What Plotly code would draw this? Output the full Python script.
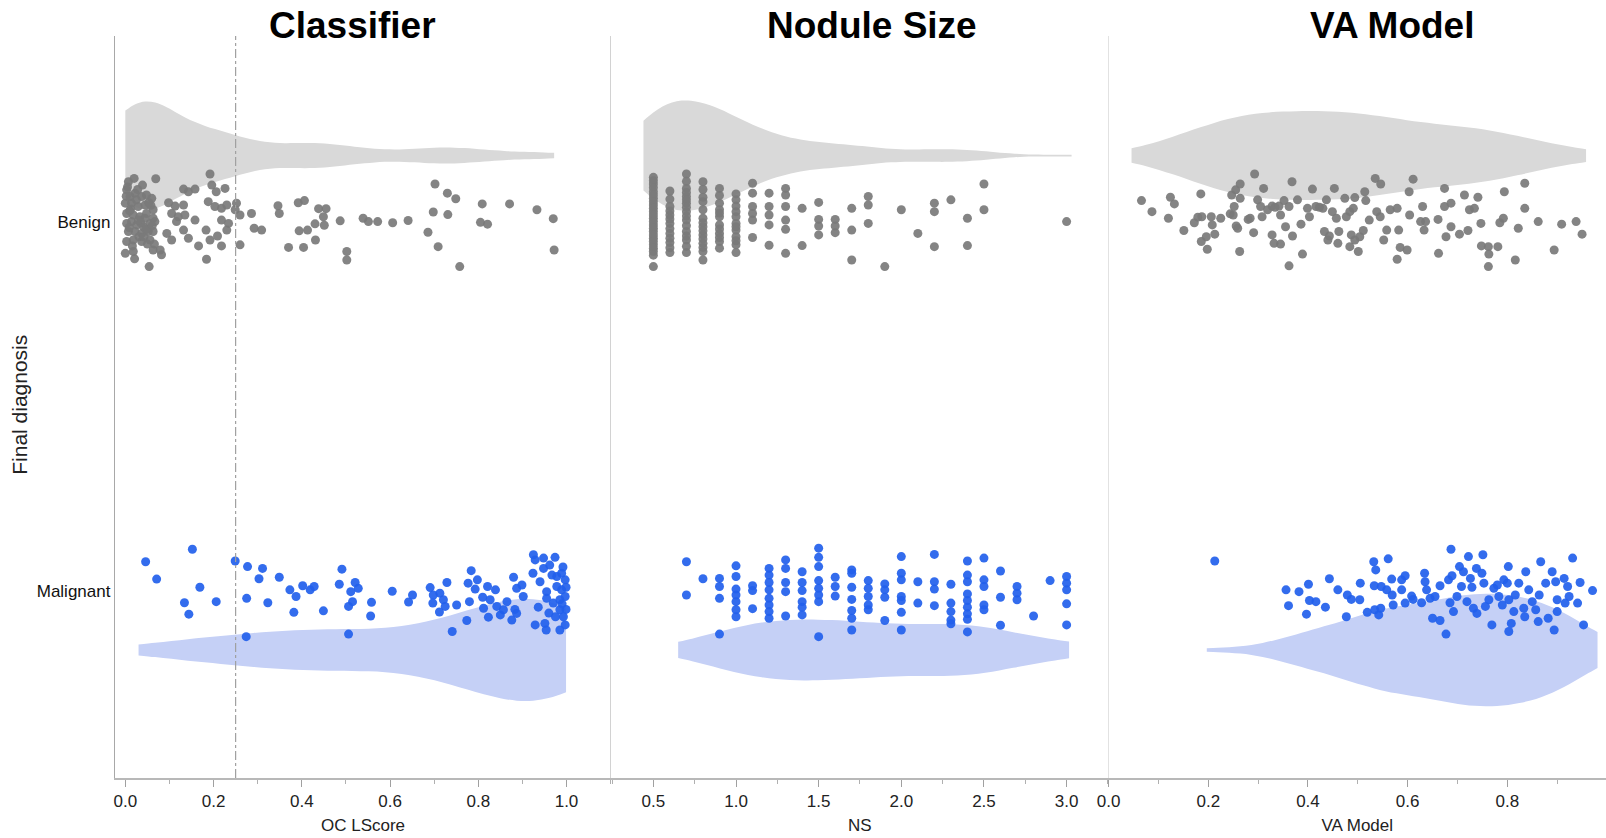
import plotly.graph_objects as go

# ---------------- data ----------------
categories = ["Benign", "Malignant"]
cat_pos = [1.0, 0.0]          # category positions on the y axis
panel_titles = ["Classifier", "Nodule Size", "VA Model"]
x_titles = ["OC LScore", "NS", "VA Model"]
threshold = 0.25              # classifier cut-off (dash-dot line)

# Classifier (OC LScore)
cl_benign_x = [
    0.007, 0.020, 0.039, 0.069, 0.003, 0.011, 0.022, 0.037, 0.048, 0.060,
    0.000, 0.014, 0.029, 0.045, 0.063, 0.003, 0.018, 0.033, 0.048, 0.063,
    0.003, 0.014, 0.026, 0.041, 0.056, 0.067, 0.007, 0.022, 0.037, 0.052,
    0.063, 0.003, 0.018, 0.037, 0.056, 0.000, 0.018, 0.063, 0.079, 0.082,
    0.054, 0.132, 0.143, 0.158, 0.098, 0.113, 0.132, 0.105, 0.120, 0.135,
    0.116, 0.158, 0.094, 0.105, 0.132, 0.143, 0.166, 0.183, 0.192, 0.184,
    0.192, 0.196, 0.206, 0.188, 0.203, 0.218, 0.230, 0.226, 0.252, 0.249,
    0.260, 0.218, 0.234, 0.230, 0.209, 0.218, 0.260, 0.286, 0.292, 0.309,
    0.346, 0.349, 0.370, 0.392, 0.406, 0.394, 0.413, 0.430, 0.404, 0.431,
    0.438, 0.455, 0.449, 0.451, 0.487, 0.502, 0.502, 0.539, 0.551, 0.572,
    0.606, 0.641, 0.702, 0.730, 0.749, 0.698, 0.731, 0.686, 0.709, 0.758,
    0.809, 0.805, 0.821, 0.871, 0.933, 0.970, 0.972,
    0.005, 0.012, 0.025, 0.031, 0.044, 0.050, 0.058, 0.009, 0.016, 0.028,
    0.035, 0.042, 0.053, 0.002, 0.021, 0.047, 0.061, 0.010, 0.030, 0.066]
cl_benign_jit = [
    0.109, 0.118, 0.100, 0.117, 0.087, 0.069, 0.078, 0.069, 0.073, 0.064,
    0.051, 0.051, 0.042, 0.046, 0.033, 0.023, 0.019, 0.014, 0.023, 0.010,
    -0.004, 0.001, -0.008, -0.013, -0.004, 0.001, -0.026, -0.026, -0.031, -0.026,
    -0.026, -0.053, -0.049, -0.053, -0.049, -0.085, -0.080, -0.076, -0.076, -0.089,
    -0.121, 0.089, 0.082, 0.089, 0.052, 0.043, 0.046, 0.023, 0.014, 0.019,
    0.001, 0.005, -0.031, -0.049, -0.022, -0.044, -0.065, -0.022, -0.049, -0.101,
    0.130, 0.100, 0.082, 0.055, 0.042, 0.037, 0.046, 0.091, 0.051, 0.033,
    0.019, 0.005, -0.004, -0.022, -0.038, -0.065, -0.062, 0.023, -0.017, -0.022,
    0.044, 0.023, -0.069, 0.052, 0.058, -0.024, -0.022, -0.005, -0.069, -0.049,
    0.036, 0.036, 0.014, -0.009, 0.003, -0.080, -0.103, 0.010, 0.001, 0.001,
    -0.002, 0.004, 0.103, 0.078, 0.063, 0.027, 0.020, -0.028, -0.067, -0.121,
    0.049, -0.001, -0.006, 0.049, 0.033, 0.009, -0.076,
    0.095, 0.035, 0.060, -0.040, 0.010, -0.060, 0.045, -0.015, -0.065, 0.088,
    -0.002, -0.040, 0.052, 0.070, -0.100, -0.020, -0.010, 0.030, 0.005, -0.060]
cl_malig_x = [
    0.046, 0.071, 0.152, 0.169, 0.134, 0.144, 0.206, 0.249, 0.277, 0.311,
    0.303, 0.275, 0.323, 0.349, 0.373, 0.387, 0.402, 0.419, 0.428, 0.382,
    0.449, 0.274, 0.491, 0.485, 0.521, 0.528, 0.511, 0.515, 0.506, 0.558,
    0.556, 0.506, 0.605, 0.642, 0.651, 0.691, 0.698, 0.713, 0.697, 0.721,
    0.725, 0.712, 0.729, 0.751, 0.741, 0.784, 0.798, 0.777, 0.793, 0.780,
    0.774, 0.821, 0.839, 0.810, 0.812, 0.827, 0.823, 0.842, 0.850, 0.865,
    0.857, 0.876, 0.883, 0.887, 0.880, 0.887, 0.899, 0.902, 0.925, 0.929,
    0.924, 0.948, 0.948, 0.974, 0.940, 0.955, 0.967, 0.978, 0.989, 0.997,
    0.955, 0.970, 0.985, 0.997, 0.978, 0.989, 0.936, 0.929, 0.951, 0.954,
    0.985, 0.997, 0.993, 0.985, 0.992, 0.999, 0.962, 0.975, 0.960, 0.999,
    0.990]
cl_malig_jit = [
    0.079, 0.032, 0.113, 0.010, -0.032, -0.063, -0.029, 0.081, 0.066, 0.061,
    0.033, -0.020, -0.032, 0.037, 0.003, -0.015, 0.014, 0.003, 0.012, -0.058,
    -0.054, -0.124, 0.059, 0.018, 0.023, 0.007, -0.002, -0.029, -0.042, -0.031,
    -0.068, -0.117, -0.001, -0.030, -0.011, 0.009, -0.011, -0.006, -0.033, -0.024,
    -0.042, -0.057, 0.023, -0.038, -0.110, 0.055, 0.030, 0.021, 0.005, -0.029,
    -0.080, 0.012, 0.003, -0.017, -0.047, -0.024, -0.071, -0.042, -0.065, -0.029,
    -0.051, -0.079, -0.050, -0.061, 0.037, 0.007, 0.016, -0.015, 0.098, 0.084,
    0.048, 0.089, 0.061, 0.091, 0.025, -0.002, 0.043, 0.039, 0.048, 0.030,
    -0.020, -0.033, -0.024, -0.015, 0.012, 0.003, -0.044, -0.092, -0.088, -0.106,
    -0.106, -0.092, -0.070, -0.051, 0.065, -0.050, 0.070, -0.070, -0.060, 0.010,
    -0.035]

# Nodule size (NS)
ns_benign_x = (
    [0.5] * 13 + [0.6] * 7 + [0.7] * 9 + [0.8] * 9 + [0.9] * 8 + [1.0] * 8 +
    [1.1] * 6 + [1.2] * 5 + [1.3] * 6 + [1.4] * 2 + [1.5] * 4 + [1.6] * 3 +
    [1.7] * 3 + [1.8] * 3 + [1.9] * 1 + [2.0] * 1 + [2.1] * 1 + [2.2] * 3 +
    [2.3] * 1 + [2.4] * 2 + [2.5] * 2 + [3.0] * 1 +
    [0.5] * 12 + [0.6] * 6 + [0.7] * 8 + [0.8] * 6 + [0.9] * 4 + [1.0] * 4)
ns_benign_jit = [
    0.121, 0.103, 0.082, 0.064, 0.046, 0.028, 0.010, -0.008, -0.026, -0.044, -0.062, -0.080, -0.121,
    0.084, 0.042, 0.019, -0.004, -0.031, -0.056, -0.083,
    0.130, 0.091, 0.069, 0.051, 0.028, 0.005, -0.026, -0.049, -0.083,
    0.109, 0.067, 0.055, 0.010, -0.013, -0.035, -0.058, -0.080, -0.103,
    0.091, 0.051, 0.033, 0.014, -0.008, -0.031, -0.053, -0.071,
    0.076, 0.043, 0.014, -0.004, -0.022, -0.040, -0.062, -0.083,
    0.105, 0.078, 0.042, 0.023, 0.005, -0.042,
    0.078, 0.042, 0.019, -0.008, -0.063,
    0.091, 0.073, 0.042, 0.005, -0.020, -0.085,
    0.037, -0.064,
    0.053, 0.007, -0.011, -0.035,
    0.007, -0.011, -0.029,
    0.037, -0.022, -0.103,
    0.069, 0.046, -0.004,
    -0.121,
    0.033,
    -0.031,
    0.051, 0.028, -0.067,
    0.060,
    0.010, -0.064,
    0.103, 0.033,
    0.001,
    0.112, 0.093, 0.073, 0.055, 0.037, 0.019, 0.001, -0.017, -0.035, -0.053, -0.071, -0.090,
    0.062, 0.030, 0.008, -0.018, -0.044, -0.070,
    0.110, 0.080, 0.060, 0.040, 0.016, -0.010, -0.038, -0.066,
    0.088, 0.033, -0.002, -0.024, -0.046, -0.069,
    0.072, 0.024, -0.019, -0.042,
    0.060, 0.028, -0.013, -0.051]
ns_malig_x = (
    [0.7] * 2 + [0.8] * 1 + [0.9] * 4 + [1.0] * 7 + [1.1] * 3 + [1.2] * 8 +
    [1.3] * 5 + [1.4] * 6 + [1.5] * 8 + [1.6] * 3 + [1.7] * 7 + [1.8] * 5 +
    [1.9] * 4 + [2.0] * 7 + [2.1] * 2 + [2.2] * 4 + [2.3] * 5 + [2.4] * 9 +
    [2.5] * 5 + [2.6] * 3 + [2.7] * 3 + [2.8] * 1 + [2.9] * 1 + [3.0] * 5)
ns_malig_jit = [
    0.079, -0.011,
    0.033,
    0.034, 0.012, -0.020, -0.117,
    0.068, 0.039, 0.005, -0.011, -0.029, -0.051, -0.070,
    0.014, 0.001, -0.048,
    0.061, 0.043, 0.023, 0.003, -0.020, -0.038, -0.056, -0.074,
    0.084, 0.061, 0.023, -0.002, -0.068,
    0.052, 0.023, 0.001, -0.029, -0.044, -0.065,
    0.116, 0.091, 0.066, 0.028, 0.007, -0.011, -0.029, -0.124,
    0.037, 0.012, -0.014,
    0.057, 0.048, 0.010, -0.023, -0.053, -0.074, -0.106,
    0.028, 0.007, -0.015, -0.038, -0.051,
    0.019, 0.003, -0.017, -0.080,
    0.093, 0.048, 0.030, -0.015, -0.026, -0.058, -0.106,
    0.025, -0.033,
    0.099, 0.025, 0.005, -0.040,
    0.018, -0.033, -0.056, -0.079, -0.089,
    0.081, 0.043, 0.025, -0.008, -0.026, -0.044, -0.062, -0.077, -0.111,
    0.089, 0.030, 0.012, -0.038, -0.051,
    0.054, -0.017, -0.093,
    0.012, -0.006, -0.024,
    -0.068,
    0.028,
    0.039, 0.021, 0.003, -0.035, -0.092]

# VA model
va_benign_x = [
    0.066, 0.087, 0.120, 0.124, 0.132, 0.151, 0.185, 0.172, 0.179, 0.187,
    0.186, 0.196, 0.198, 0.206, 0.208, 0.213, 0.225, 0.244, 0.247, 0.255,
    0.264, 0.264, 0.252, 0.250, 0.256, 0.259, 0.263, 0.280, 0.284, 0.291,
    0.293, 0.299, 0.305, 0.308, 0.311, 0.319, 0.328, 0.334, 0.342, 0.345,
    0.352, 0.355, 0.362, 0.328, 0.332, 0.345, 0.362, 0.369, 0.368, 0.379,
    0.386, 0.389, 0.399, 0.403, 0.409, 0.416, 0.423, 0.430, 0.437, 0.433,
    0.443, 0.440, 0.453, 0.449, 0.457, 0.462, 0.460, 0.474, 0.477, 0.484,
    0.494, 0.491, 0.487, 0.484, 0.494, 0.504, 0.501, 0.511, 0.514, 0.516,
    0.523, 0.535, 0.546, 0.538, 0.545, 0.552, 0.558, 0.565, 0.579, 0.582,
    0.579, 0.585, 0.599, 0.603, 0.604, 0.611, 0.630, 0.626, 0.633, 0.636,
    0.661, 0.662, 0.674, 0.674, 0.677, 0.687, 0.687, 0.704, 0.714, 0.721,
    0.724, 0.734, 0.741, 0.747, 0.748, 0.762, 0.763, 0.762, 0.781, 0.785,
    0.792, 0.794, 0.822, 0.835, 0.835, 0.816, 0.862, 0.894, 0.909, 0.938,
    0.950]
va_benign_jit = [
    0.058, 0.028, 0.010, 0.067, 0.049, -0.023, 0.076, -0.002, 0.013, 0.014,
    -0.053, -0.040, -0.074, 0.014, -0.008, -0.033, 0.010, 0.022, 0.073, 0.087,
    0.103, 0.064, 0.042, 0.019, -0.011, -0.017, -0.080, 0.007, 0.010, -0.029,
    0.130, 0.060, 0.042, 0.014, 0.091, 0.033, 0.043, 0.040, 0.043, 0.019,
    0.058, -0.013, 0.042, -0.035, -0.058, -0.060, -0.119, -0.038, 0.109, 0.060,
    -0.006, -0.087, 0.037, 0.014, 0.089, 0.042, 0.040, 0.037, 0.060, -0.026,
    -0.038, -0.049, 0.091, 0.028, 0.010, -0.026, -0.058, 0.064, 0.014, 0.028,
    0.066, 0.037, -0.035, -0.067, -0.049, -0.040, -0.080, -0.023, 0.082, 0.058,
    0.005, 0.118, 0.103, 0.028, 0.014, -0.049, -0.022, 0.033, 0.037, -0.022,
    -0.101, -0.069, -0.076, 0.082, 0.019, 0.116, 0.042, 0.001, -0.022, 0.001,
    0.007, -0.085, 0.091, 0.042, -0.040, 0.051, -0.013, -0.033, 0.073, -0.023,
    0.033, 0.037, 0.067, -0.004, -0.065, -0.067, -0.087, -0.121, -0.067, -0.002,
    0.010, 0.082, -0.017, 0.105, 0.037, -0.103, 0.001, -0.076, -0.006, 0.001,
    -0.033]
va_malig_x = [
    0.213, 0.356, 0.361, 0.382, 0.401, 0.403, 0.397, 0.416, 0.435, 0.443,
    0.460, 0.477, 0.479, 0.487, 0.504, 0.505, 0.519, 0.532, 0.536, 0.533,
    0.534, 0.542, 0.546, 0.547, 0.561, 0.558, 0.569, 0.568, 0.571, 0.588,
    0.595, 0.595, 0.588, 0.608, 0.611, 0.628, 0.634, 0.635, 0.638, 0.645,
    0.655, 0.650, 0.665, 0.665, 0.677, 0.682, 0.685, 0.689, 0.687, 0.692,
    0.699, 0.704, 0.708, 0.712, 0.719, 0.722, 0.726, 0.729, 0.732, 0.739,
    0.738, 0.749, 0.751, 0.753, 0.763, 0.756, 0.769, 0.773, 0.780, 0.783,
    0.790, 0.793, 0.802, 0.800, 0.803, 0.808, 0.803, 0.813, 0.816, 0.823,
    0.833, 0.837, 0.835, 0.843, 0.850, 0.857, 0.862, 0.864, 0.867, 0.877,
    0.882, 0.890, 0.897, 0.894, 0.900, 0.900, 0.914, 0.921, 0.924, 0.916,
    0.931, 0.941, 0.946, 0.953, 0.971]
va_malig_jit = [
    0.081, 0.003, -0.040, -0.002, 0.018, -0.026, -0.063, -0.029, -0.044, 0.033,
    0.003, -0.070, -0.011, -0.023, -0.024, 0.021, -0.058, 0.079, 0.057, 0.014,
    -0.051, -0.065, -0.047, 0.012, 0.087, 0.003, -0.011, 0.032, -0.038, 0.030,
    0.041, -0.033, 0.003, -0.014, -0.023, -0.032, 0.048, 0.025, 0.003, -0.020,
    -0.015, -0.074, 0.014, -0.080, -0.117, 0.030, -0.032, 0.041, 0.113, -0.056,
    -0.015, 0.066, 0.012, 0.052, -0.029, 0.093, 0.034, 0.010, -0.047, -0.061,
    0.061, 0.048, 0.098, 0.021, -0.024, -0.042, -0.092, 0.007, 0.016, -0.015,
    -0.038, 0.030, 0.066, 0.021, -0.024, -0.088, -0.110, -0.056, -0.011, 0.021,
    -0.047, 0.052, -0.070, 0.003, -0.029, -0.051, -0.083, -0.011, 0.079, 0.021,
    -0.074, 0.052, 0.025, -0.106, -0.024, -0.056, 0.034, 0.012, -0.015, -0.033,
    0.089, -0.033, 0.023, -0.092, 0.001]

pairs = [(cl_benign_x, cl_benign_jit), (cl_malig_x, cl_malig_jit),
         (ns_benign_x, ns_benign_jit), (ns_malig_x, ns_malig_jit),
         (va_benign_x, va_benign_jit), (va_malig_x, va_malig_jit)]
for a, b in pairs:
    assert len(a) == len(b), (len(a), len(b))

# ---------------- styles ----------------
BENIGN_PT = "rgb(122,122,122)"
MALIG_PT = "rgb(34,96,236)"
BENIGN_VIO = "rgb(217,217,217)"
MALIG_VIO = "rgb(197,208,246)"
VIO_OFFSET = {"Benign": 0.18, "Malignant": -0.16}
# (benign, malignant) per panel: full violin width, kde bandwidth, span padding (left, right)
vio_width = [(0.293, 0.275), (0.298, 0.165), (0.241, 0.305)]
vio_bw = [(0.068, None), (None, None), (None, None)]
vio_pad = [((0.0, 0.0), (0.016, 0.0)), ((0.06, 0.03), (0.05, 0.015)),
           ((0.02, 0.008), (0.016, 0.01))]
SANS = "Liberation Sans, Arial, sans-serif"

fig = go.Figure()
panels = [
    (cl_benign_x, cl_benign_jit, cl_malig_x, cl_malig_jit),
    (ns_benign_x, ns_benign_jit, ns_malig_x, ns_malig_jit),
    (va_benign_x, va_benign_jit, va_malig_x, va_malig_jit),
]
for i, (bx, bj, mx, mj) in enumerate(panels):
    xa = "x" if i == 0 else f"x{i+1}"
    ya = "y" if i == 0 else f"y{i+1}"
    specs = [("Benign", cat_pos[0], bx, BENIGN_VIO, 0), ("Malignant", cat_pos[1], mx, MALIG_VIO, 1)]
    for cat, pos, data, col, k in specs:
        padl, padr = vio_pad[i][k]
        kw = {}
        if vio_bw[i][k] is not None:
            kw["bandwidth"] = vio_bw[i][k]
        fig.add_trace(go.Violin(
            x=data, y0=pos + VIO_OFFSET[cat], orientation="h", side="both",
            width=vio_width[i][k], points=False, fillcolor=col, line=dict(width=0, color=col),
            spanmode="manual", span=[min(data) - padl, max(data) + padr],
            hoverinfo="skip", showlegend=False,
            box=dict(visible=False), meanline=dict(visible=False),
            xaxis=xa, yaxis=ya, **kw))
    for pos, data, jit, col in [(cat_pos[0], bx, bj, BENIGN_PT), (cat_pos[1], mx, mj, MALIG_PT)]:
        fig.add_trace(go.Scatter(
            x=data, y=[pos + j for j in jit], mode="markers",
            marker=dict(size=9, color=col, opacity=0.92, line=dict(width=0)),
            hoverinfo="skip", showlegend=False, xaxis=xa, yaxis=ya))

D1, D2 = 0.3327, 0.6664
tick_font = dict(family=SANS, size=17, color="#222")
common_x = dict(showgrid=False, zeroline=False, showline=True, linecolor="#b8b8b8",
                linewidth=1.5, ticks="outside", ticklen=7, tickwidth=1, tickcolor="#a0a0a0",
                tickformat=".1f", tickfont=tick_font,
                title_font=dict(family=SANS, size=17, color="#222"), title_standoff=9)
y_range = [-0.507, 1.504]
common_y = dict(range=y_range, showgrid=False, zeroline=False, showline=True, ticks="",
                type="linear", fixedrange=True)
minor_style = dict(ticks="outside", ticklen=4, tickcolor="#b0b0b0", tick0=0)

fig.update_layout(
    width=1606, height=838,
    margin=dict(l=115, r=0, t=36, b=60),
    paper_bgcolor="white", plot_bgcolor="white",
    violinmode="overlay", violingap=0, violingroupgap=0,
    xaxis=dict(common_x, domain=[0, D1], range=[-0.0234, 1.101], tick0=0, dtick=0.2,
               minor=dict(minor_style, dtick=0.1), title_text=x_titles[0], anchor="y"),
    xaxis2=dict(common_x, domain=[D1, D2], range=[0.244, 3.254], tick0=0, dtick=0.5,
                minor=dict(minor_style, dtick=0.25), title_text=x_titles[1], anchor="y2"),
    xaxis3=dict(common_x, domain=[D2, 1.0], range=[0, 0.998], tick0=0, dtick=0.2,
                minor=dict(minor_style, dtick=0.1), title_text=x_titles[2], anchor="y3"),
    yaxis=dict(common_y, anchor="x", linecolor="#a8a8a8", linewidth=1.3,
               tickvals=cat_pos, ticktext=categories,
               tickfont=dict(family=SANS, size=17, color="#111")),
    yaxis2=dict(common_y, anchor="x2", linecolor="#d2d2d2", linewidth=1.3, showticklabels=False),
    yaxis3=dict(common_y, anchor="x3", linecolor="#e2e2e2", linewidth=1.3, showticklabels=False),
)

fig.add_shape(type="line", xref="x", yref="paper", x0=threshold, x1=threshold, y0=0, y1=1,
              line=dict(color="#a0a0a0", width=1.2, dash="dashdot"))

title_x = [0.159, 0.508, 0.8565]
for t, xp in zip(panel_titles, title_x):
    fig.add_annotation(text=f"<b>{t}</b>", xref="paper", yref="paper", x=xp, y=1.014,
                       showarrow=False, xanchor="center", yanchor="middle",
                       font=dict(family=SANS, size=37, color="#000"))
fig.add_annotation(text="Final diagnosis", xref="paper", yref="paper", x=-0.0637, y=0.503,
                   textangle=-90, showarrow=False, xanchor="center", yanchor="middle",
                   font=dict(family=SANS, size=21, color="#222"))

fig.write_html("out.html", config={"displayModeBar": False},
               post_script="document.body.style.margin='0px';document.body.style.overflow='hidden';")
